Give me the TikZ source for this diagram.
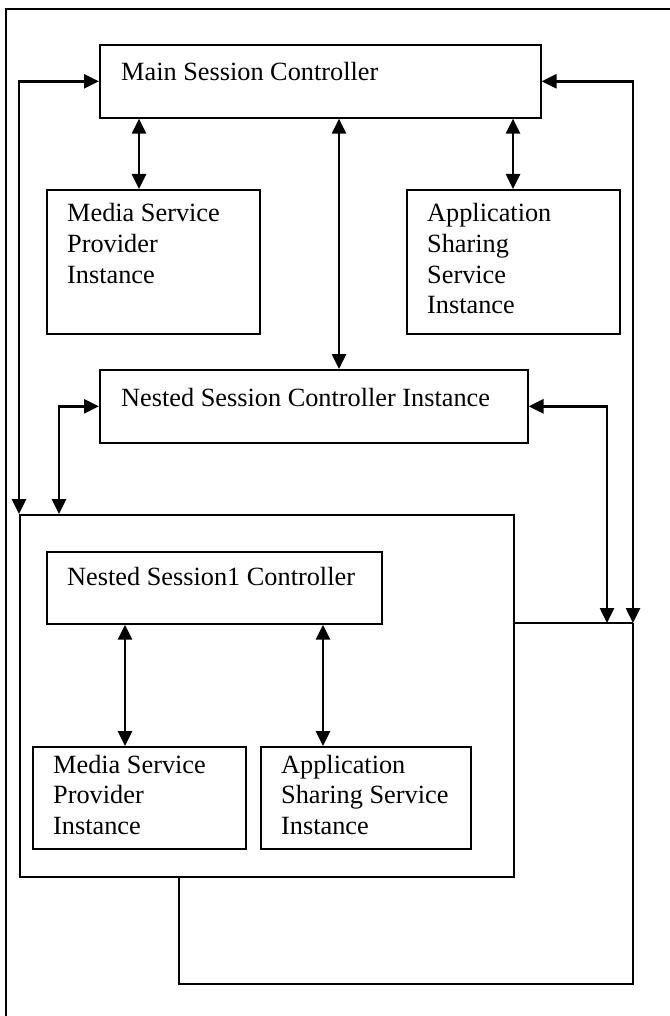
\documentclass[tikz,border=0pt]{standalone}
\usepackage{fontspec}
\setmainfont{Liberation Serif}
\usetikzlibrary{arrows.meta}
\newcommand\boxlines[1]{\begin{tabular}[t]{@{}l@{}}#1\end{tabular}}
\begin{document}
\begin{tikzpicture}[x=1pt,y=-1pt,
  box/.style={draw, line width=1.6pt, rectangle, inner sep=0pt, anchor=north west},
  txt/.style={inner sep=0pt, anchor=base west, font=\fontsize{26.3}{30.6}\selectfont},
  biarrow/.style={line width=2.6pt, {Triangle[length=15pt,width=14pt]}-{Triangle[length=15pt,width=14pt]}},
  wire/.style={line width=1.7pt},
  frameline/.style={line width=1.6pt}]
\useasboundingbox (0,0) rectangle (669,1016);
% outer frame
\draw[frameline] (6,1030) -- (6,9) -- (675,9);
% boxes
\node[box, minimum width=441pt, minimum height=73pt] (main) at (99,44) {};
\node[box, minimum width=213pt, minimum height=144pt] (media) at (46,189) {};
\node[box, minimum width=213pt, minimum height=144pt] (app) at (406,189) {};
\node[box, minimum width=428pt, minimum height=73pt] (nsci) at (99,369) {};
\node[box, minimum width=494pt, minimum height=362pt] (big) at (19,514) {};
\node[box, minimum width=335pt, minimum height=72pt] (ns1c) at (46,551) {};
\node[box, minimum width=213pt, minimum height=102pt] (imedia) at (32,746) {};
\node[box, minimum width=210pt, minimum height=102pt] (iapp) at (260,746) {};
% texts
\node[txt] (tmain) at (121,81) {Main Session Controller};
\node[txt] (tmedia) at (67,222) {\boxlines{Media Service\\Provider\\Instance}};
\node[txt] (tapp) at (427,222) {\boxlines{Application\\Sharing\\Service\\Instance}};
\node[txt] (tnsci) at (121,406) {Nested Session Controller Instance};
\node[txt] (tns1c) at (67,585) {Nested Session1 Controller};
\node[txt] (timedia) at (53,773) {\boxlines{Media Service\\Provider\\Instance}};
\node[txt] (tiapp) at (281,773) {\boxlines{Application\\Sharing Service\\Instance}};
% helper coordinates
\coordinate (rr) at (633,623);
\coordinate (bl) at (179,984);
% vertical double arrows
\draw[biarrow] (main.south -| 139,0) -- (media.north -| 139,0);
\draw[biarrow] (main.south -| 513,0) -- (app.north -| 513,0);
\draw[biarrow] (main.south -| 339,0) -- (nsci.north -| 339,0);
\draw[biarrow] (ns1c.south -| 125,0) -- (imedia.north -| 125,0);
\draw[biarrow] (ns1c.south -| 323,0) -- (iapp.north -| 323,0);
% loops
\draw[biarrow] (main.west) -| (big.north west);
\draw[biarrow] (main.east) -| (rr);
\draw[biarrow] (nsci.west) -| (big.north -| 59,0);
\draw[biarrow] (nsci.east) -| (rr -| 607,0);
\draw[wire] (big.east |- rr) -- (rr);
\draw[wire] (big.south -| bl) -- (bl) -| (rr);
\end{tikzpicture}
\end{document}
